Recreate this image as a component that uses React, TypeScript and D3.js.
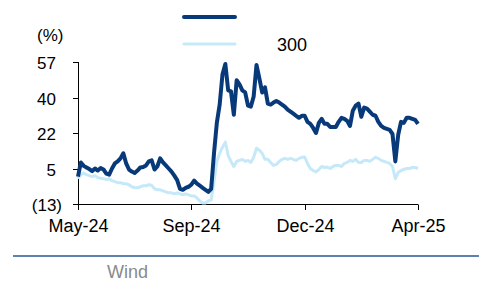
import { useEffect, useRef } from "react";
import * as d3 from "d3";

// series, one value per sample step
const darkSeries = [
  0.5, 7.5, 5.8, 5.0, 4.2, 3.2, 4.5, 3.5, 4.7, 4.0,
  2.0, 1.5, 4.5, 7.0, 8.0, 9.5, 12.0, 7.0, 4.0, 3.0,
  2.3, 3.5, 5.0, 5.2, 6.0, 8.0, 8.5, 4.0, 5.5, 9.5,
  7.5, 6.0, 4.5, 3.0, 1.0, -1.2, -5.5, -6.0, -5.0, -4.5,
  -3.5, -1.5, -3.0, -4.0, -5.0, -6.0, -7.0, -5.5, 12.0, 27.0,
  36.0, 51.0, 56.0, 43.0, 42.5, 31.0, 48.0, 46.0, 43.0, 42.0,
  35.5, 35.0, 40.0, 55.5, 49.0, 42.0, 44.5, 36.5, 36.0, 37.0,
  37.8, 37.0, 36.0, 35.0, 33.5, 32.5, 31.5, 30.5, 29.5, 30.5,
  30.5, 27.5, 26.5, 24.5, 22.0, 27.0, 29.0, 26.5, 26.5, 25.0,
  25.0, 25.0, 27.5, 29.5, 29.0, 28.0, 25.5, 33.0, 35.5, 36.5,
  30.0, 34.5, 34.0, 32.5, 31.0, 30.5, 27.5, 25.5, 24.5, 24.0,
  23.5, 21.5, 8.0, 21.0, 27.5, 27.0, 29.5, 29.5, 29.0, 28.5,
  26.5,
];

const lightSeries = [
  -0.5, 1.5, 2.3, 1.5, 1.0, 0.5, 1.0, 0.0, -0.3, -0.5,
  -1.0, -0.5, -1.5, -2.0, -2.5, -2.5, -3.0, -3.0, -3.5, -4.5,
  -5.0, -5.0, -4.5, -4.0, -4.0, -3.5, -3.8, -5.5, -6.0, -6.0,
  -6.5, -7.0, -7.5, -7.5, -8.0, -7.5, -8.0, -8.5, -8.0, -8.5,
  -9.0, -9.0, -10.0, -11.5, -12.5, -12.5, -11.5, -11.0, -2.0, 8.0,
  12.0, 15.0, 17.5, 11.0, 8.0, 5.5, 8.0, 8.5, 9.0, 8.0,
  8.5, 7.5, 10.0, 14.5, 13.5, 12.0, 9.0, 9.0, 7.5, 6.0,
  6.5, 8.0, 9.0, 9.5, 9.0, 9.5, 9.0, 8.5, 9.5, 10.0,
  10.2, 7.0, 4.5, 3.5, 2.8, 4.0, 5.5, 5.0, 5.2, 4.5,
  5.5, 6.0, 6.0, 5.5, 7.0, 7.5, 8.5, 8.0, 9.0, 7.5,
  7.5, 8.5, 8.5, 8.0, 9.0, 10.0, 9.5, 8.5, 8.0, 7.5,
  7.0, 5.5, -0.5, 2.5, 3.5, 4.0, 4.5, 4.5, 5.0, 5.0,
  4.5,
];

const xTickIndex = [0, 40, 80, 120];
const xTickLabels = ["May-24", "Sep-24", "Dec-24", "Apr-25"];
const yTickValues = [-13, 4.5, 22, 39.5, 57];
const yTickLabels = ["(13)", "5", "22", "40", "57"];
const legendLabels = ["", "300"];
const sourceLabel = "Wind";

const W = 486;
const H = 293;
const FONT = "'Liberation Sans', Arial, sans-serif";

export default function App() {
  const ref = useRef<SVGSVGElement | null>(null);

  useEffect(() => {
    const svg = d3.select(ref.current);
    svg.selectAll("*").remove();

    const x = d3.scaleLinear().domain([0, darkSeries.length - 1]).range([78, 418]);
    const y = d3.scaleLinear().domain([-13, 57]).range([204, 62]);

    const darkColor = "#083a7a";
    const lightColor = "#c5e9f9";

    // y axis
    svg.append("line")
      .attr("x1", 78.5).attr("x2", 78.5)
      .attr("y1", y(57)).attr("y2", y(-13))
      .attr("stroke", "#000").attr("stroke-width", 1);

    yTickValues.forEach((v, i) => {
      const yy = Math.round(y(v)) + 0.5;
      svg.append("line")
        .attr("x1", 73).attr("x2", 78.5)
        .attr("y1", yy).attr("y2", yy)
        .attr("stroke", "#000");
      const lab = yTickLabels[i];
      svg.append("text")
        .attr("x", lab.startsWith("(") ? 62 : 56)
        .attr("y", yy + 6)
        .attr("text-anchor", "end")
        .style("font-family", FONT)
        .style("font-size", "17px")
        .attr("fill", "#000")
        .text(lab);
    });

    svg.append("text")
      .attr("x", 37).attr("y", 41)
      .style("font-family", FONT)
      .style("font-size", "17px")
      .text("(%)");

    // x axis
    svg.append("line")
      .attr("x1", 78).attr("x2", 418)
      .attr("y1", 204.5).attr("y2", 204.5)
      .attr("stroke", "#000");

    xTickIndex.forEach((idx, i) => {
      const xx = Math.round(x(idx)) + 0.5;
      svg.append("line")
        .attr("x1", xx).attr("x2", xx)
        .attr("y1", 204.5).attr("y2", 210)
        .attr("stroke", "#000");
      svg.append("text")
        .attr("x", xx).attr("y", 232)
        .attr("text-anchor", "middle")
        .style("font-family", FONT)
        .style("font-size", "18px")
        .text(xTickLabels[i]);
    });

    const line = d3.line<number>()
      .x((_, i) => x(i))
      .y(d => y(d))
      .curve(d3.curveLinear);

    svg.append("path")
      .datum(lightSeries)
      .attr("d", line)
      .attr("fill", "none")
      .attr("stroke", lightColor)
      .attr("stroke-width", 3)
      .attr("stroke-linejoin", "round");

    svg.append("path")
      .datum(darkSeries)
      .attr("d", line)
      .attr("fill", "none")
      .attr("stroke", darkColor)
      .attr("stroke-width", 4)
      .attr("stroke-linejoin", "round");

    // legend
    const legend = [
      { color: darkColor, width: 4, y: 17 },
      { color: lightColor, width: 3, y: 44 },
    ];
    legend.forEach((l, i) => {
      svg.append("line")
        .attr("x1", 184).attr("x2", 235)
        .attr("y1", l.y).attr("y2", l.y)
        .attr("stroke", l.color)
        .attr("stroke-width", l.width)
        .attr("stroke-linecap", "round");
      svg.append("text")
        .attr("x", 277).attr("y", l.y + 7)
        .style("font-family", FONT)
        .style("font-size", "18px")
        .text(legendLabels[i]);
    });

    // source rule and note
    svg.append("line")
      .attr("x1", 13).attr("x2", 479)
      .attr("y1", 256).attr("y2", 256)
      .attr("stroke", "#5f82ad")
      .attr("stroke-width", 2);

    svg.append("text")
      .attr("x", 107).attr("y", 278)
      .style("font-family", FONT)
      .style("font-size", "18px")
      .attr("fill", "#8a8a8a")
      .text(sourceLabel);
  }, []);

  return (
    <svg
      ref={ref}
      width={W}
      height={H}
      style={{ position: "absolute", left: 0, top: 0, background: "#fff" }}
    />
  );
}
